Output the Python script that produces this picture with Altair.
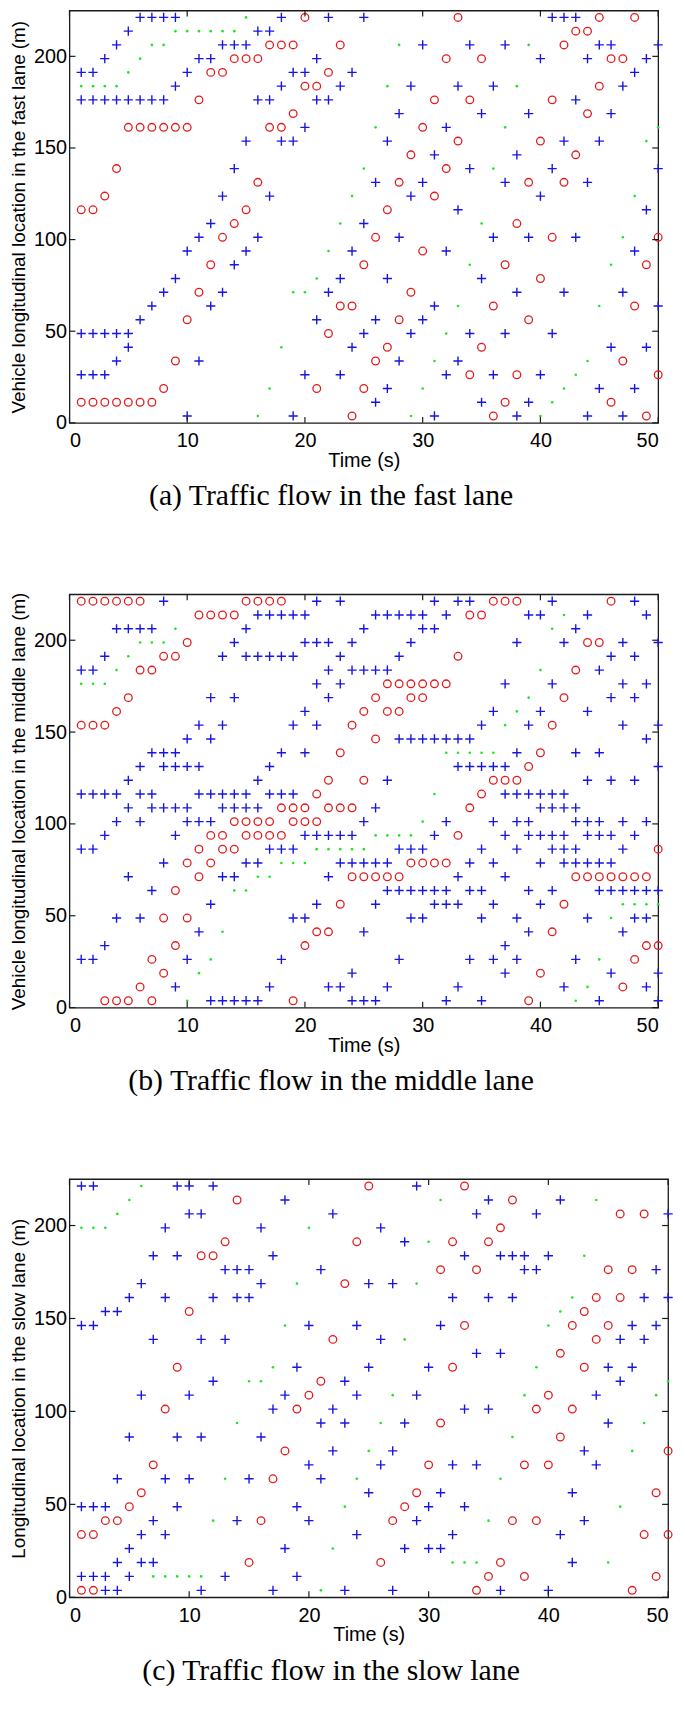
import altair as alt
import pandas as pd

# Cell centres (m) of the 30 road cells shown on the vertical axis
ROW_LOCS = [3.75, 11.25, 18.75, 26.25, 33.75, 41.25, 48.75, 56.25, 63.75, 71.25,
            78.75, 86.25, 93.75, 101.25, 108.75, 116.25, 123.75, 131.25, 138.75, 146.25,
            153.75, 161.25, 168.75, 176.25, 183.75, 191.25, 198.75, 206.25, 213.75, 221.25]
XTICKS = [0, 10, 20, 30, 40, 50]
YTICKS = [0, 50, 100, 150, 200]

# ---- (a) fast lane : {cell index: [time steps]} ----
FAST_PLUS = {
    29: [6, 7, 8, 9, 18, 22, 25, 41, 42, 43], 28: [5, 16, 17], 27: [4, 13, 14, 15, 30, 34, 37, 45, 46, 50],
    26: [3, 11, 12, 21, 40, 44, 49], 25: [1, 2, 10, 19, 20, 24, 48], 24: [9, 18, 23, 29, 33, 36, 47],
    23: [1, 2, 3, 4, 5, 6, 7, 8, 16, 17, 21, 22, 43], 22: [28, 35, 39, 46], 21: [20, 32],
    20: [15, 18, 19, 27, 42, 45], 19: [31, 38], 18: [14, 34, 41, 50], 17: [26, 30, 37, 44],
    16: [13, 17, 29, 40], 15: [33, 49], 14: [12, 25], 13: [11, 16, 28, 36, 39, 43],
    12: [10, 15, 24, 32, 48], 11: [14], 10: [9, 23, 27, 35], 9: [8, 13, 22, 38, 42, 47],
    8: [7, 12, 31, 50], 7: [6, 21, 26, 30], 6: [1, 2, 3, 4, 5, 25, 29, 34, 37, 41],
    5: [5, 24, 46, 49], 4: [4, 11, 28, 33], 3: [1, 2, 3, 20, 23, 32, 36, 40], 2: [27, 45, 48],
    1: [26, 35, 39], 0: [10, 19, 31, 38, 44, 47],
}
FAST_CIRCLE = {
    29: [20, 33, 45, 48], 28: [43, 44], 27: [17, 18, 19, 23, 42], 26: [14, 15, 16, 32, 35, 46, 47],
    25: [12, 13, 22], 24: [20, 21, 45], 23: [11, 31, 34, 41], 22: [19, 44],
    21: [5, 6, 7, 8, 9, 10, 17, 18, 30], 20: [33, 40], 19: [29, 43], 18: [4, 32], 17: [16, 28, 39, 42],
    16: [3, 31], 15: [1, 2, 15, 27], 14: [14, 38], 13: [13, 26, 41, 50], 12: [30], 11: [12, 25, 37, 49],
    10: [40], 9: [11, 29], 8: [23, 24, 36, 48], 7: [10, 28, 39], 6: [22], 5: [27, 35], 4: [9, 26, 47],
    3: [34, 38, 50], 2: [8, 21, 25], 1: [1, 2, 3, 4, 5, 6, 7, 37, 46], 0: [24, 36, 49],
}
FAST_DOT = {
    29: [15], 28: [9, 10, 11, 12, 13, 14], 27: [7, 8, 28, 39], 26: [6], 25: [5], 24: [1, 2, 3, 4, 27, 38],
    21: [26, 37, 50], 20: [49], 18: [25, 36], 16: [24, 48], 14: [23, 35], 13: [47], 12: [22],
    11: [34, 46], 10: [21], 9: [19, 20], 8: [33, 45], 6: [32], 5: [18], 4: [31, 44], 3: [43],
    2: [17, 30, 42], 1: [41], 0: [16, 29, 40],
}

# ---- (b) middle lane ----
MID_PLUS = {
    29: [8, 21, 23, 31, 33, 34, 41, 48], 28: [16, 17, 18, 19, 20, 26, 27, 28, 29, 30, 32, 39, 40, 44, 49],
    27: [4, 5, 6, 7, 15, 25, 30, 31, 43], 26: [14, 20, 21, 22, 24, 29, 38, 42, 47, 50],
    25: [3, 13, 15, 16, 17, 18, 19, 23, 28, 46, 48], 24: [1, 2, 22, 24, 25, 26, 27, 45],
    23: [21, 23, 37, 41, 47, 49], 22: [12, 14, 22, 46, 48], 21: [20, 36, 40, 44],
    20: [11, 13, 19, 21, 35, 39, 47, 50], 19: [10, 12, 28, 29, 30, 31, 32, 33, 34, 49],
    18: [7, 8, 9, 18, 20, 38, 43, 45], 17: [6, 8, 9, 10, 11, 17, 33, 34, 35, 36, 37, 50],
    16: [5, 16, 27, 44, 46, 48],
    15: [1, 2, 3, 4, 6, 7, 11, 12, 13, 14, 15, 17, 18, 19, 37, 38, 39, 40, 41, 42],
    14: [5, 7, 8, 9, 10, 13, 14, 15, 16, 26, 40, 41, 42, 43],
    13: [4, 6, 10, 11, 12, 25, 32, 36, 38, 39, 43, 44, 45, 47, 49],
    12: [3, 9, 20, 21, 22, 23, 24, 31, 37, 39, 40, 41, 42, 44, 45, 46, 48],
    11: [1, 2, 17, 18, 19, 28, 29, 30, 35, 38, 41, 42, 43, 47],
    10: [8, 15, 16, 23, 24, 25, 26, 27, 34, 36, 40, 42, 43, 44, 45, 46],
    9: [5, 13, 14, 22, 33, 37],
    8: [7, 27, 28, 29, 30, 31, 32, 34, 35, 39, 41, 45, 46, 47, 48, 49, 50],
    7: [12, 21, 26, 31, 32, 33, 36, 40], 6: [4, 6, 19, 20, 29, 30, 35, 38, 44, 48, 49],
    5: [11, 25, 39, 47], 4: [3, 37], 3: [1, 2, 10, 18, 28, 34, 36, 38, 43], 2: [24, 37, 46, 50],
    1: [9, 17, 22, 23, 27, 33, 42, 49], 0: [12, 13, 14, 15, 16, 24, 25, 26, 32, 35, 45, 50],
}
MID_CIRCLE = {
    29: [1, 2, 3, 4, 5, 6, 15, 16, 17, 18, 36, 37, 38, 46], 28: [11, 12, 13, 14, 34, 35],
    26: [10, 44, 45], 25: [8, 9, 33], 24: [6, 7, 43], 23: [27, 28, 29, 30, 31, 32],
    22: [5, 26, 29, 30, 42], 21: [4, 25, 27, 28], 20: [1, 2, 3, 24, 41], 19: [26], 18: [23, 40],
    17: [39], 16: [22, 25, 36, 37, 38], 15: [21, 35], 14: [18, 19, 20, 22, 23, 24, 34],
    13: [14, 15, 16, 17, 19, 20, 21], 12: [12, 13, 15, 16, 17, 18, 33], 11: [11, 13, 14, 50],
    10: [10, 12, 29, 30, 31, 32], 9: [11, 24, 25, 26, 27, 28, 43, 44, 45, 46, 47, 48, 49],
    8: [9], 7: [23, 42], 6: [8, 10], 5: [21, 22, 41], 4: [9, 20, 49, 50], 3: [7, 48], 2: [8, 40],
    1: [6, 47], 0: [3, 4, 5, 7, 19, 39],
}
MID_DOT = {
    28: [42], 27: [9, 41], 26: [6, 7, 8], 25: [5], 24: [4, 40], 23: [1, 2, 3], 22: [39], 21: [38],
    20: [37], 18: [32, 33, 34, 35, 36], 15: [31], 13: [30], 12: [26, 27, 28, 29],
    11: [21, 22, 23, 24, 25], 10: [18, 19, 20], 9: [16, 17], 8: [14, 15], 7: [47, 48, 49, 50],
    6: [46], 5: [13], 3: [12, 45], 2: [11], 1: [44], 0: [10, 43],
}

# ---- (c) slow lane ----
SLOW_PLUS = {
    29: [1, 2, 9, 10, 12, 29], 28: [18, 35, 41], 27: [10, 11, 22, 34, 39, 50], 26: [8, 16, 26],
    25: [28], 24: [7, 9, 17, 33, 36, 37, 38, 40], 23: [13, 14, 15, 21, 38, 39, 49],
    22: [6, 16, 25, 27], 21: [5, 8, 12, 14, 15, 32, 35, 37, 48, 50], 20: [3, 4],
    19: [1, 2, 20, 24, 31, 47, 49], 18: [7, 11, 13, 26, 46, 48], 17: [34, 36],
    16: [19, 25, 30, 45, 47], 15: [12, 23, 46], 14: [6, 10, 18, 24, 29, 44], 13: [17, 22, 33, 35],
    12: [21, 23, 28, 45], 11: [5, 9, 11, 16], 10: [22, 27, 43], 9: [20, 26, 32, 34, 44],
    8: [4, 8, 10, 15, 21], 7: [25, 31, 42], 6: [1, 2, 3, 9, 19, 30, 33], 5: [7, 14, 20, 29, 43],
    4: [6, 8, 24, 32, 41], 3: [5, 18, 28, 30, 31], 2: [4, 6, 7, 42], 1: [1, 2, 3, 5, 13, 19],
    0: [3, 4, 11, 17, 23, 27, 36, 40],
}
SLOW_CIRCLE = {
    29: [25, 33], 28: [14, 37], 27: [46, 48], 26: [36], 25: [13, 24, 32, 35], 24: [11, 12],
    23: [31, 34, 45, 47], 22: [23], 21: [44, 46], 20: [10, 43], 19: [33, 42, 45], 18: [22, 44],
    17: [41], 16: [9, 32, 43], 15: [21], 14: [20, 40], 13: [8, 19, 39, 42], 12: [31], 11: [41],
    10: [18, 50], 9: [7, 30, 38, 40], 8: [17], 7: [6, 29, 49], 6: [5, 28],
    5: [3, 4, 16, 27, 37, 39], 4: [1, 2, 48, 50], 2: [15, 26, 36], 1: [35, 38, 49], 0: [1, 2, 34, 47],
}
SLOW_DOT = {
    29: [6], 28: [5, 31, 44], 27: [4], 26: [1, 2, 3, 20], 25: [30], 24: [43], 22: [19, 29],
    21: [42], 20: [41], 19: [18, 40], 18: [28], 16: [17, 39], 15: [15, 16, 50], 14: [27, 38, 49],
    12: [14, 26, 48], 11: [37], 10: [25, 47], 8: [13, 24, 36], 6: [23, 46], 5: [12, 35],
    3: [22], 2: [32, 33, 34, 45], 1: [7, 8, 9, 10, 11], 0: [21],
}

RED = "#e31a1a"
BLUE = "#1616e0"
GREEN = "#1ee61e"
INK = "#1a1a1a"
SANS = "Liberation Sans"
SERIF = "Liberation Serif"
PLUS_PATH = "M-1,0L1,0M0,-1L0,1"


def frame(circles, pluses, dots):
    rows = []
    for kind, table in (("circle", circles), ("plus", pluses), ("dot", dots)):
        for k, times in table.items():
            for t in times:
                rows.append({"time": t, "loc": ROW_LOCS[k], "kind": kind})
    return pd.DataFrame(rows)


def panel(df, ytitle, caption, w, h):
    xs = alt.Scale(domain=[0, 50], nice=False, zero=False)
    ys = alt.Scale(domain=[0, 225], nice=False, zero=False)
    xaxis = alt.Axis(values=XTICKS, title="Time (s)", labelPadding=8, titlePadding=0)
    yaxis = alt.Axis(values=YTICKS, title=ytitle, labelPadding=3, titlePadding=5, titleFontSize=19)
    x = alt.X("time:Q", scale=xs, axis=xaxis)
    y = alt.Y("loc:Q", scale=ys, axis=yaxis)
    base = alt.Chart(df).encode(x=x, y=y)
    circ = base.transform_filter(alt.datum.kind == "circle").mark_point(
        shape="circle", filled=False, color=RED, size=60, strokeWidth=1.3, opacity=1)
    plus = base.transform_filter(alt.datum.kind == "plus").mark_point(
        shape=PLUS_PATH, filled=False, color=BLUE, size=86, strokeWidth=1.4, opacity=1)
    dot = base.transform_filter(alt.datum.kind == "dot").mark_point(
        shape="circle", filled=True, color=GREEN, size=7, strokeWidth=0, opacity=1)

    xt_df = pd.DataFrame({"time": XTICKS})
    yt_df = pd.DataFrame({"loc": YTICKS})
    tick_kw = dict(size=6, thickness=1.2, color=INK, opacity=1)
    xt_bot = alt.Chart(xt_df).mark_tick(orient="vertical", **tick_kw).encode(x=x, y=alt.value(h - 3))
    xt_top = alt.Chart(xt_df).mark_tick(orient="vertical", **tick_kw).encode(x=x, y=alt.value(3))
    yt_l = alt.Chart(yt_df).mark_tick(orient="horizontal", **tick_kw).encode(y=y, x=alt.value(3))
    yt_r = alt.Chart(yt_df).mark_tick(orient="horizontal", **tick_kw).encode(y=y, x=alt.value(w - 3))

    # caption centred on the page column rather than on the plot area
    cap = alt.Chart(pd.DataFrame({"cap": [caption]})).mark_text(
        font=SERIF, fontSize=30, color="black", align="center", baseline="middle").encode(
        text="cap:N", x=alt.value(264), y=alt.value(h + 74))

    return alt.layer(circ, plus, dot, xt_bot, xt_top, yt_l, yt_r, cap).properties(width=w, height=h)


p1 = panel(frame(FAST_CIRCLE, FAST_PLUS, FAST_DOT),
           "Vehicle longitudinal location in the fast lane (m)",
           "(a) Traffic flow in the fast lane", 594, 416)
p2 = panel(frame(MID_CIRCLE, MID_PLUS, MID_DOT),
           "Vehicle longitudinal location in the middle lane (m)",
           "(b) Traffic flow in the middle lane", 594, 417)
p3 = panel(frame(SLOW_CIRCLE, SLOW_PLUS, SLOW_DOT),
           "Longitudinal location in the slow lane (m)",
           "(c) Traffic flow in the slow lane", 604, 422)

chart = alt.vconcat(p1, p2, p3, spacing=173, bounds="flush").properties(
    padding={"left": 0, "top": -7, "right": 0, "bottom": 0}
).configure_view(stroke=INK, strokeWidth=1.3).configure_axis(
    domain=False, ticks=False, grid=False,
    labelFont=SANS, titleFont=SANS, labelFontSize=20, titleFontSize=20,
    labelColor="black", titleColor="black", titleFontWeight="normal",
)

chart.save("out.html", embed_options={"renderer": "svg", "actions": False})
